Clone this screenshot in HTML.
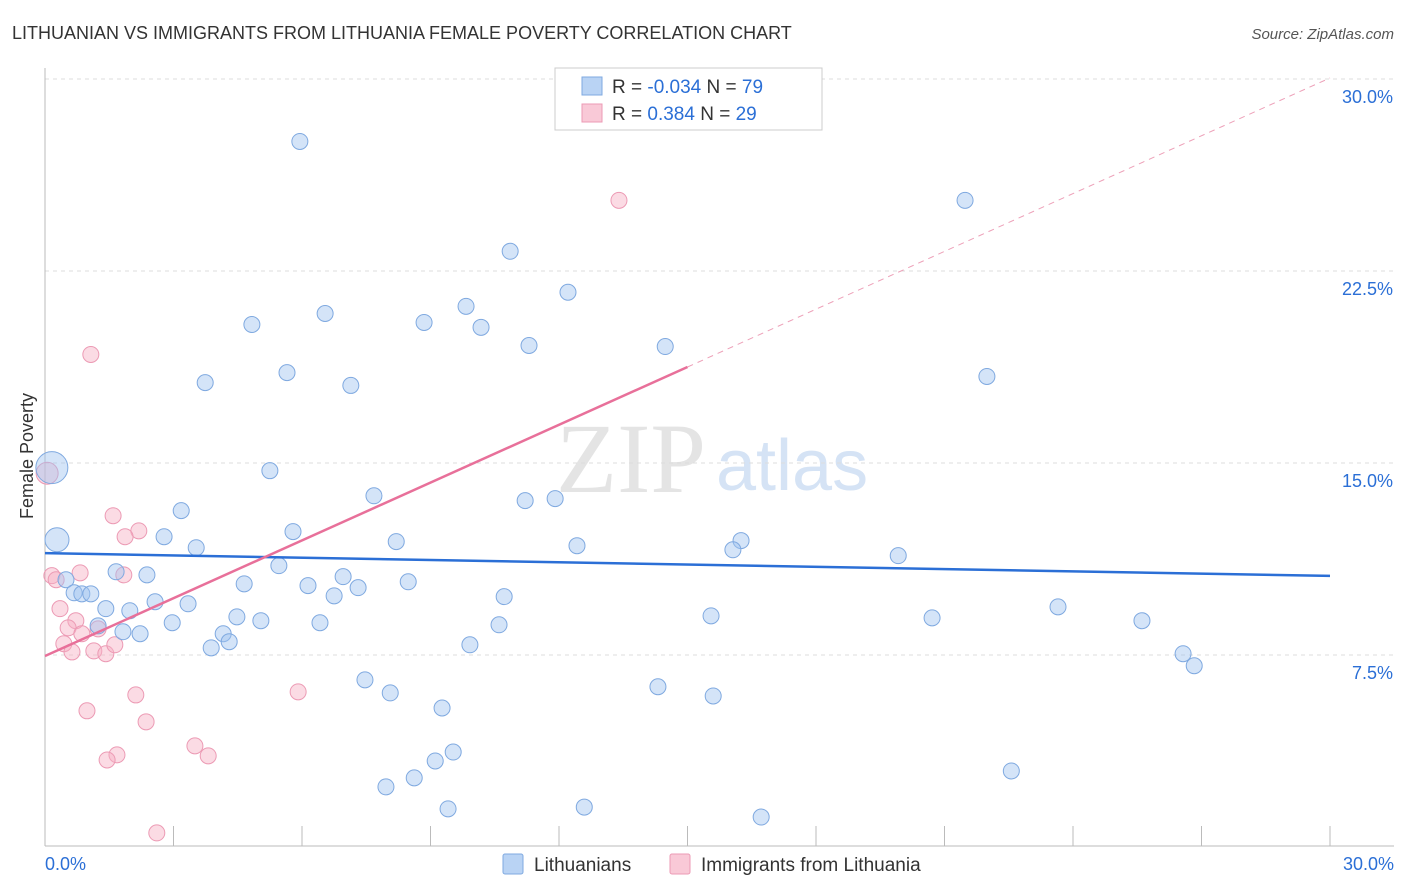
<!DOCTYPE html>
<html><head><meta charset="utf-8">
<style>
body{margin:0;background:#fff;font-family:"Liberation Sans",sans-serif;}
#wrap{position:relative;width:1406px;height:892px;overflow:hidden;}
</style></head>
<body>
<div id="wrap">
<svg id="svg" width="1406" height="892" xmlns="http://www.w3.org/2000/svg">
<text x="12" y="39" font-size="18" fill="#333">LITHUANIAN VS IMMIGRANTS FROM LITHUANIA FEMALE POVERTY CORRELATION CHART</text>
<text x="1394" y="39" font-size="15" fill="#555" font-style="italic" text-anchor="end">Source: ZipAtlas.com</text>
<text x="33" y="456" font-size="18" fill="#333" text-anchor="middle" transform="rotate(-90 33 456)">Female Poverty</text>
<text x="556" y="492" font-size="100" fill="#e4e4e4" font-family="Liberation Serif,serif">ZIP</text>
<text x="716" y="490" font-size="72" fill="#d5e3f5">atlas</text>
<g id="grid"></g><g id="pts"></g><g id="lines"></g>
<g>
<rect x="555" y="68" width="267" height="62" fill="#fff" stroke="#ccc"/>
<rect x="582" y="77" width="20" height="18" fill="#b9d3f4" stroke="#7fa9e0"/>
<rect x="582" y="104" width="20" height="18" fill="#f9c9d7" stroke="#ec9ab4"/>
<text x="612" y="93" font-size="19" fill="#333">R = <tspan fill="#2b6fd6">-0.034</tspan>   N = <tspan fill="#2b6fd6">79</tspan></text>
<text x="612" y="120" font-size="19" fill="#333">R =  <tspan fill="#2b6fd6"> 0.384</tspan>   N = <tspan fill="#2b6fd6">29</tspan></text>
</g>
<g>
<rect x="503" y="854" width="20" height="20" fill="#b9d3f4" stroke="#7fa9e0" rx="2"/>
<text x="534" y="871" font-size="19" fill="#333">Lithuanians</text>
<rect x="670" y="854" width="20" height="20" fill="#f9c9d7" stroke="#ec9ab4" rx="2"/>
<text x="701" y="871" font-size="19" fill="#333">Immigrants from Lithuania</text>
</g>
</svg>
</div>
<script>
const NS="http://www.w3.org/2000/svg";
const yTicks=[7.5,15,22.5,30];
const yTickLabels=["7.5%","15.0%","22.5%","30.0%"];
const xTicks=[0,3,6,9,12,15,18,21,24,27,30];
const blueX=[5.95,21.48,10.86,12.21,4.83,6.54,8.85,9.83,10.18,11.30,14.48,3.74,5.65,7.14,21.99,0.16,5.25,0.28,7.68,11.21,11.91,3.18,2.78,3.53,5.79,8.20,12.42,16.25,16.06,19.92,5.46,0.49,1.66,2.38,4.65,6.96,6.14,7.31,8.48,0.68,0.86,1.07,6.75,10.72,1.42,1.98,2.57,3.34,4.48,5.04,2.97,6.42,1.24,1.82,2.22,4.16,4.30,3.88,10.60,9.92,15.55,20.71,23.65,25.61,26.57,26.83,7.47,8.06,9.27,14.31,15.60,9.53,9.11,8.62,7.96,9.41,12.59,16.72,22.56];
const blueY=[27.56,25.26,23.27,21.67,20.41,20.84,20.49,21.12,20.30,19.59,19.55,18.14,18.53,18.03,18.38,14.82,14.70,12.00,13.72,13.53,13.61,13.14,12.12,11.69,12.32,11.93,11.77,11.97,11.61,11.38,10.99,10.44,10.75,10.63,10.28,10.56,10.21,10.13,10.36,9.93,9.89,9.89,9.81,9.78,9.31,9.23,9.58,9.50,8.99,8.84,8.76,8.76,8.64,8.41,8.33,8.33,8.02,7.78,8.68,7.90,9.03,8.95,9.38,8.84,7.55,7.08,6.53,6.02,5.43,6.26,5.90,3.71,3.36,2.70,2.35,1.49,1.56,1.17,2.97];
const pinkX=[13.40,1.07,0.05,1.59,2.19,1.87,0.16,0.26,0.82,1.84,0.35,0.72,0.54,1.24,0.86,0.44,0.63,1.14,1.42,1.63,2.12,5.91,0.98,2.36,3.50,3.81,1.68,1.45,2.61];
const pinkY=[25.26,19.24,14.6,12.94,12.35,12.12,10.60,10.44,10.71,10.63,9.31,8.84,8.56,8.52,8.33,7.94,7.62,7.66,7.55,7.90,5.94,6.06,5.32,4.89,3.95,3.56,3.60,3.40,0.55];
const blueTrend=[11.48,10.59];
const pinkTrend=[7.46,30.04];
const sx=v=>45+v*(1285/30);
const sy=v=>847-v*25.6;
function mk(tag,attrs,parent){const e=document.createElementNS(NS,tag);for(const k in attrs)e.setAttribute(k,attrs[k]);parent.appendChild(e);return e;}
const grid=document.getElementById('grid');
yTicks.forEach((t,i)=>{
  const l=mk('line',{x1:45,x2:1394,y1:sy(t),y2:sy(t),stroke:'#ddd','stroke-dasharray':'4,4'},grid);
  
  
  const tx=mk('text',{x:1393,y:sy(t)+24,'font-size':18,fill:'#2b6fd6','text-anchor':'end'},grid);
  tx.textContent=yTickLabels[i];
  
  
});
const ax=mk('line',{x1:45,x2:45,y1:68,y2:846,stroke:'#bbb'},grid);


const bx=mk('line',{x1:45,x2:1394,y1:846,y2:846,stroke:'#bbb'},grid);


xTicks.forEach(t=>{
  const l=mk('line',{x1:sx(t),x2:sx(t),y1:826,y2:846,stroke:'#bbb'},grid);
  
  
});
const xl0=mk('text',{x:45,y:870,'font-size':18,fill:'#2b6fd6'},grid);xl0.textContent='0.0%';


const xl1=mk('text',{x:1394,y:870,'font-size':18,fill:'#2b6fd6','text-anchor':'end'},grid);xl1.textContent='30.0%';


const pts=document.getElementById('pts');
pinkX.forEach((x,i)=>{
  const c=mk('circle',{cx:sx(x),cy:sy(pinkY[i]),r:i==2?11:8,fill:'rgba(246,175,196,0.45)',stroke:'#ec9ab4','stroke-width':1},pts);
  
  
});
blueX.forEach((x,i)=>{
  const r=(i==15)?16:(i==17?12:8);
  const c=mk('circle',{cx:sx(x),cy:sy(blueY[i]),r:r,fill:'rgba(160,196,240,0.45)',stroke:'#7fa9e0','stroke-width':1},pts);
  
  
});
const lines=document.getElementById('lines');
const bl=mk('line',{x1:sx(0),y1:sy(blueTrend[0]),x2:sx(30),y2:sy(blueTrend[1]),stroke:'#2b6fd6','stroke-width':2.5},lines);


const pm=v=>pinkTrend[0]+(pinkTrend[1]-pinkTrend[0])*v/30;
const pl=mk('line',{x1:sx(0),y1:sy(pm(0)),x2:sx(15),y2:sy(pm(15)),stroke:'#e8709a','stroke-width':2.5},lines);


const pd=mk('line',{x1:sx(15),y1:sy(pm(15)),x2:sx(30),y2:sy(pm(30)),stroke:'#eda0b8','stroke-width':1,'stroke-dasharray':'6,5'},lines);


</script>
</body></html>
